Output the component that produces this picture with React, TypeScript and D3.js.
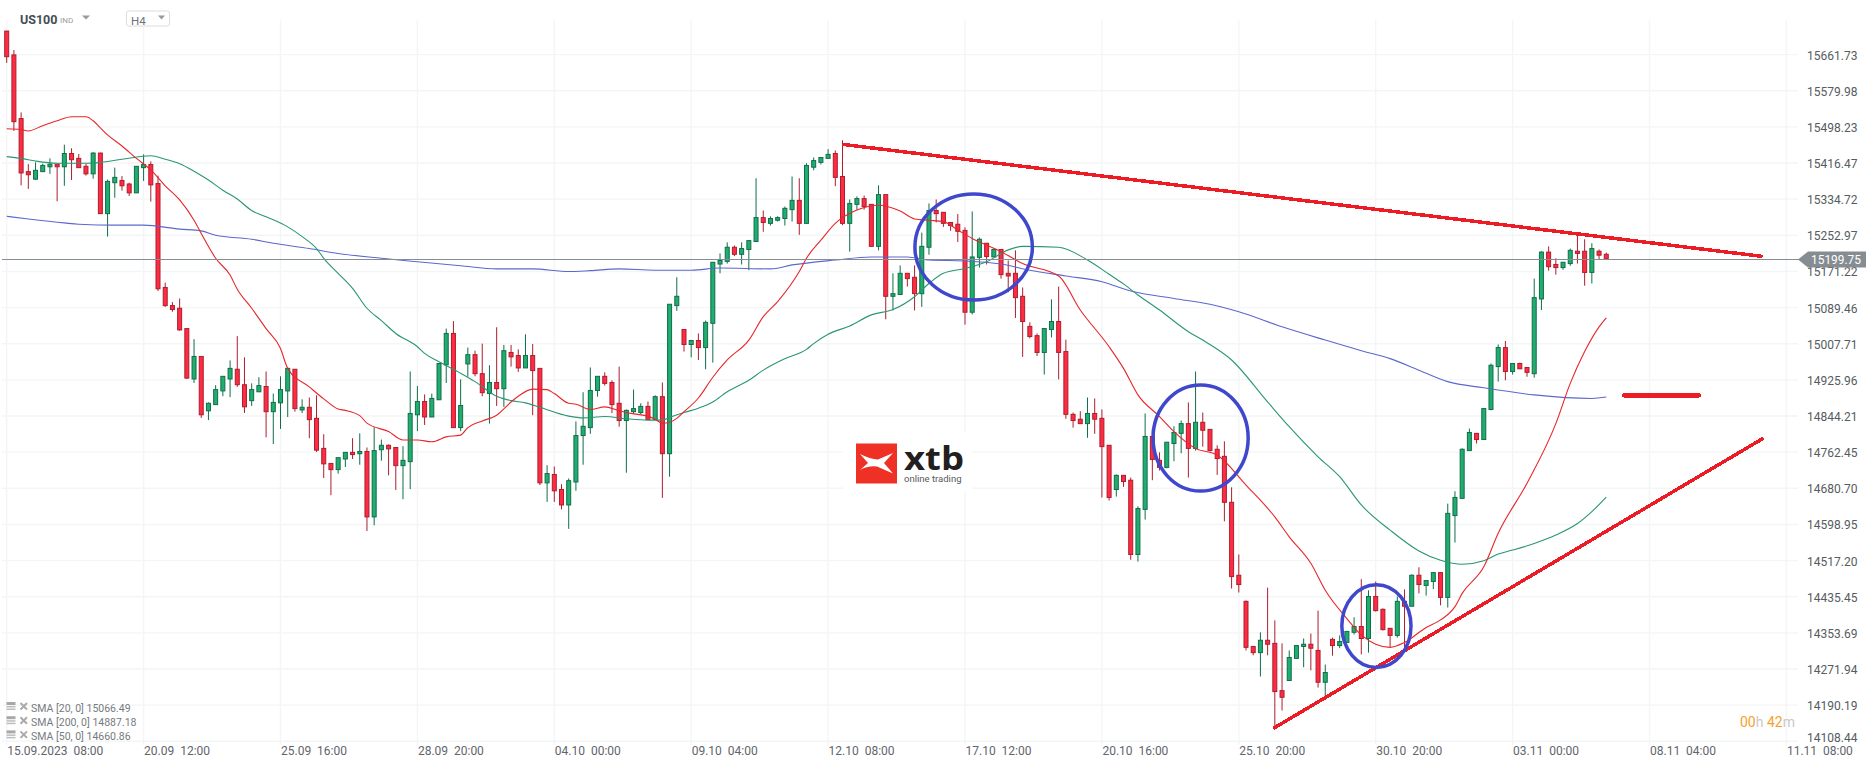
import { useRef, useEffect } from "react";
import * as d3 from "d3";

const WIDTH = 1866;
const HEIGHT = 767;

const priceTicks = [
  15661.73, 15579.98, 15498.23, 15416.47, 15334.72, 15252.97, 15171.22, 15089.46, 15007.71, 14925.96,
  14844.21, 14762.45, 14680.7, 14598.95, 14517.2, 14435.45, 14353.69, 14271.94, 14190.19, 14108.44,
];
const timeLabels = [
  "15.09.2023  08:00", "20.09  12:00", "25.09  16:00", "28.09  20:00", "04.10  00:00", "09.10  04:00", "12.10  08:00",
  "17.10  12:00", "20.10  16:00", "25.10  20:00", "30.10  20:00", "03.11  00:00", "08.11  04:00", "11.11  08:00",
];
const BARS_PER_LABEL = 19;
const lastPrice = 15199.75;

const opens = [
  15715, 15661, 15517, 15397, 15380, 15397, 15408, 15414, 15408, 15438,
  15427, 15409, 15392, 15439, 15302, 15372, 15377, 15369, 15349, 15406,
  15413, 15370, 15135, 15094, 15088, 15042, 14928, 14979, 14856, 14870,
  14901, 14928, 14950, 14915, 14879, 14899, 14911, 14854, 14874, 14901,
  14950, 14858, 14864, 14839, 14771, 14737, 14723, 14747, 14762, 14759,
  14764, 14616, 14768, 14778, 14773, 14732, 14741, 14847, 14877, 14842,
  14881, 14960, 15031, 14818, 14962, 14983, 14940, 14895, 14920, 14906,
  14988, 14981, 14953, 14981, 14952, 14693, 14712, 14678, 14643, 14695,
  14800, 14818, 14902, 14934, 14920, 14873, 14834, 14854, 14852, 14866,
  14836, 14888, 14759, 15094, 15040, 15006, 15015, 14999, 15054, 15188,
  15194, 15226, 15210, 15221, 15239, 15293, 15280, 15287, 15291, 15311,
  15332, 15280, 15407, 15418, 15427, 15438, 15386, 15280, 15323, 15336,
  15323, 15228, 15345, 15115, 15119, 15167, 15158, 15121, 15226, 15309,
  15305, 15282, 15278, 15264, 15079, 15203, 15235, 15204, 15221, 15167,
  15167, 15115, 15047, 15026, 14988, 15040, 15058, 14990, 14848, 14837,
  14827, 14850, 14839, 14778, 14678, 14710, 14699, 14531, 14633, 14798,
  14744, 14728, 14782, 14805, 14827, 14771, 14830, 14814, 14769, 14753,
  14649, 14484, 14425, 14323, 14309, 14337, 14330, 14223, 14246, 14296,
  14323, 14328, 14314, 14242, 14339, 14325, 14332, 14355, 14368, 14341,
  14436, 14407, 14364, 14348, 14425, 14414, 14484, 14461, 14470, 14490,
  14434, 14619, 14658, 14766, 14805, 14791, 14859, 14956, 14999, 14945,
  14963, 14954, 14940, 15109, 15215, 15187, 15180, 15189, 15217, 15217,
  15169, 15217, 15210,
];
const highs = [
  15715, 15672, 15531, 15414, 15418, 15415, 15427, 15414, 15458, 15450,
  15437, 15415, 15441, 15440, 15379, 15406, 15387, 15372, 15409, 15436,
  15420, 15388, 15146, 15102, 15110, 15042, 15018, 14979, 14875, 14914,
  14934, 14970, 15025, 14977, 14918, 14932, 14945, 14895, 14934, 14954,
  14950, 14882, 14886, 14891, 14803, 14737, 14750, 14762, 14794, 14805,
  14773, 14819, 14791, 14780, 14773, 14776, 14945, 14912, 14893, 14895,
  14963, 15042, 15059, 14927, 14999, 14992, 15008, 14959, 15045, 15005,
  15005, 14995, 15029, 15007, 14952, 14733, 14730, 14690, 14703, 14832,
  14898, 14954, 14934, 14943, 14925, 14956, 14859, 14904, 14873, 14877,
  14891, 14920, 15097, 15158, 15040, 15015, 15031, 15060, 15192, 15212,
  15237, 15230, 15237, 15241, 15382, 15309, 15296, 15296, 15318, 15386,
  15382, 15416, 15429, 15429, 15448, 15445, 15468, 15334, 15341, 15343,
  15323, 15366, 15345, 15167, 15185, 15167, 15185, 15259, 15325, 15334,
  15305, 15282, 15301, 15271, 15307, 15248, 15235, 15223, 15221, 15196,
  15219, 15135, 15056, 15031, 15042, 15108, 15137, 15017, 14852, 14855,
  14886, 14884, 14859, 14778, 14712, 14710, 14705, 14640, 14850, 14816,
  14762, 14785, 14821, 14834, 14875, 14945, 14852, 14814, 14778, 14787,
  14683, 14531, 14427, 14323, 14355, 14456, 14382, 14330, 14314, 14325,
  14341, 14352, 14404, 14282, 14343, 14348, 14357, 14389, 14475, 14450,
  14470, 14409, 14364, 14436, 14452, 14486, 14502, 14472, 14490, 14490,
  14646, 14674, 14771, 14816, 14805, 14861, 14963, 15006, 15014, 14963,
  14965, 14954, 15155, 15217, 15228, 15201, 15192, 15223, 15253, 15244,
  15235, 15221, 15214,
];
const lows = [
  15643, 15489, 15366, 15358, 15378, 15397, 15392, 15330, 15365, 15378,
  15406, 15388, 15381, 15302, 15250, 15338, 15354, 15342, 15349, 15376,
  15329, 15127, 15091, 15080, 15037, 14928, 14919, 14840, 14835, 14870,
  14889, 14887, 14910, 14851, 14867, 14899, 14796, 14781, 14815, 14842,
  14854, 14851, 14794, 14763, 14704, 14665, 14714, 14729, 14747, 14734,
  14584, 14597, 14743, 14710, 14677, 14656, 14679, 14810, 14824, 14842,
  14881, 14919, 14818, 14810, 14933, 14934, 14889, 14827, 14867, 14865,
  14956, 14944, 14953, 14846, 14688, 14650, 14650, 14633, 14589, 14675,
  14734, 14804, 14888, 14913, 14851, 14820, 14716, 14850, 14848, 14836,
  14836, 14659, 14707, 15082, 14990, 14977, 14971, 14950, 14965, 15167,
  15189, 15206, 15187, 15174, 15239, 15261, 15275, 15284, 15275, 15284,
  15254, 15280, 15400, 15413, 15427, 15364, 15276, 15216, 15311, 15311,
  15228, 15219, 15063, 15083, 15119, 15137, 15083, 15091, 15209, 15282,
  15272, 15263, 15238, 15051, 15074, 15180, 15187, 15204, 15155, 15124,
  15066, 14978, 15020, 14980, 14938, 15022, 14927, 14838, 14818, 14827,
  14795, 14804, 14660, 14653, 14662, 14684, 14519, 14515, 14610, 14699,
  14721, 14726, 14742, 14760, 14705, 14766, 14775, 14764, 14711, 14606,
  14454, 14445, 14314, 14303, 14255, 14303, 14140, 14178, 14246, 14296,
  14276, 14269, 14230, 14210, 14302, 14319, 14332, 14350, 14305, 14309,
  14402, 14359, 14322, 14343, 14321, 14414, 14443, 14438, 14453, 14416,
  14411, 14558, 14658, 14766, 14782, 14791, 14857, 14922, 14925, 14938,
  14951, 14933, 14931, 15084, 15173, 15164, 15175, 15184, 15189, 15139,
  15144, 15198, 15198,
];
const closes = [
  15657, 15510, 15394, 15390, 15400, 15411, 15414, 15408, 15438, 15424,
  15406, 15392, 15439, 15302, 15375, 15384, 15365, 15349, 15409, 15413,
  15367, 15132, 15094, 15085, 15039, 14930, 14979, 14847, 14873, 14904,
  14934, 14952, 14915, 14865, 14904, 14913, 14854, 14875, 14904, 14952,
  14861, 14864, 14836, 14767, 14736, 14723, 14750, 14762, 14757, 14764,
  14616, 14766, 14778, 14770, 14732, 14744, 14850, 14877, 14842, 14884,
  14963, 15031, 14818, 14868, 14983, 14940, 14897, 14920, 14906, 14992,
  14978, 14953, 14981, 14947, 14693, 14714, 14675, 14643, 14698, 14800,
  14821, 14902, 14934, 14918, 14870, 14834, 14857, 14861, 14866, 14836,
  14888, 14759, 15097, 15115, 15006, 15015, 14999, 15056, 15192, 15196,
  15226, 15210, 15223, 15241, 15293, 15282, 15291, 15293, 15314, 15332,
  15280, 15411, 15422, 15429, 15436, 15384, 15280, 15325, 15336, 15318,
  15228, 15345, 15115, 15121, 15167, 15155, 15121, 15228, 15309, 15302,
  15280, 15275, 15262, 15079, 15204, 15244, 15205, 15221, 15164, 15161,
  15112, 15058, 15024, 14988, 15042, 15058, 14988, 14848, 14834, 14827,
  14850, 14837, 14775, 14660, 14710, 14696, 14531, 14635, 14798, 14746,
  14728, 14785, 14807, 14827, 14771, 14830, 14812, 14766, 14748, 14649,
  14481, 14463, 14321, 14309, 14337, 14328, 14221, 14208, 14298, 14325,
  14328, 14319, 14242, 14264, 14325, 14334, 14357, 14368, 14341, 14436,
  14404, 14361, 14348, 14425, 14414, 14484, 14463, 14472, 14490, 14434,
  14624, 14660, 14769, 14807, 14791, 14861, 14959, 14999, 14945, 14963,
  14951, 14943, 15112, 15215, 15182, 15180, 15192, 15219, 15212, 15169,
  15223, 15208, 15199.75,
];

// moving averages, [bar, price]
const sma20: [number, number][] = [
  [0, 15494], [2, 15492], [3, 15489], [5, 15501], [7, 15512], [9, 15521], [11, 15521], [12, 15512], [13, 15496], [14, 15480],
  [16, 15455], [18, 15427], [20, 15401], [22, 15365], [24, 15333], [26, 15287], [27, 15257], [29, 15201], [31, 15163], [32, 15131],
  [34, 15088], [36, 15042], [38, 14997], [39, 14952], [42, 14910], [44, 14883], [46, 14860], [47, 14857], [49, 14845], [50, 14828],
  [53, 14809], [55, 14790], [57, 14790], [59, 14786], [61, 14797], [63, 14801], [64, 14818], [66, 14833], [68, 14846], [70, 14876],
  [71, 14889], [73, 14905], [75, 14904], [76, 14895], [78, 14873], [79, 14871], [81, 14859], [83, 14865], [85, 14856], [87, 14849],
  [89, 14844], [90, 14837], [91, 14828], [92, 14830], [93, 14839], [94, 14854], [96, 14885], [98, 14932], [100, 14971], [103, 15016],
  [105, 15069], [107, 15103], [110, 15171], [111, 15201], [113, 15242], [115, 15280], [118, 15310], [121, 15321], [124, 15308], [126, 15290],
  [128, 15287], [130, 15284], [132, 15265], [134, 15246], [136, 15231], [138, 15216], [141, 15189], [146, 15161], [149, 15084], [153, 15001],
  [155, 14952], [157, 14892], [160, 14843], [162, 14809], [165, 14771], [168, 14756], [172, 14688], [176, 14616], [178, 14571], [181, 14511],
  [183, 14450], [186, 14386], [188, 14349], [190, 14328], [192, 14321], [194, 14332], [197, 14366], [199, 14383], [201, 14413], [202, 14443],
  [205, 14503], [207, 14579], [211, 14692], [215, 14827], [217, 14918], [219, 14990], [221, 15046], [222, 15066.49],
];
const sma50: [number, number][] = [
  [0, 15431], [2, 15427], [4, 15421], [7, 15416], [11, 15416], [13, 15418], [16, 15425], [20, 15433], [22, 15425], [24, 15415],
  [26, 15398], [28, 15378], [30, 15355], [32, 15335], [34, 15309], [36, 15295], [39, 15272], [41, 15250], [43, 15223], [44, 15201],
  [46, 15167], [48, 15133], [50, 15088], [52, 15060], [54, 15031], [57, 15001], [58, 14986], [60, 14967], [63, 14941], [65, 14922],
  [68, 14889], [70, 14879], [72, 14874], [74, 14864], [78, 14844], [80, 14840], [83, 14843], [86, 14838], [89, 14835], [91, 14835],
  [92, 14841], [94, 14852], [96, 14862], [98, 14876], [100, 14899], [103, 14925], [105, 14948], [108, 14974], [111, 14995], [112, 15008],
  [114, 15029], [117, 15048], [120, 15073], [123, 15085], [126, 15114], [128, 15144], [130, 15167], [133, 15178], [136, 15193], [139, 15220],
  [141, 15228], [146, 15226], [150, 15197], [153, 15165], [155, 15143], [157, 15118], [160, 15084], [164, 15035], [166, 15016], [170, 14971],
  [175, 14876], [178, 14820], [182, 14752], [185, 14707], [188, 14643], [192, 14586], [196, 14539], [199, 14518], [202, 14509], [205, 14517],
  [207, 14532], [209, 14541], [212, 14556], [215, 14575], [218, 14601], [220, 14628], [222, 14660.86],
];
const sma200: [number, number][] = [
  [0, 15296], [3, 15290], [8, 15281], [10, 15278], [15, 15276], [19, 15276], [24, 15267], [27, 15263], [29, 15253], [34, 15244],
  [37, 15235], [42, 15223], [46, 15212], [52, 15201], [57, 15193], [63, 15184], [68, 15177], [73, 15177], [78, 15171], [81, 15173],
  [85, 15177], [90, 15174], [95, 15174], [99, 15179], [106, 15177], [109, 15186], [115, 15197], [120, 15204], [125, 15204], [128, 15197],
  [133, 15195], [138, 15188], [142, 15174], [147, 15161], [152, 15148], [156, 15127], [162, 15110], [167, 15097], [171, 15080], [177, 15046],
  [183, 15016], [188, 14992], [192, 14974], [196, 14948], [200, 14922], [205, 14908], [212, 14892], [220, 14884], [222, 14887.18],
];
const smaLegend = ["SMA [20, 0] 15066.49", "SMA [200, 0] 14887.18", "SMA [50, 0] 14660.86"];

// hand drawn marks on the chart, in bar / price units
const trendLines: [number, number, number, number][] = [
  [116, 15458.7, 243.7, 15205.2],
  [175.8, 14137.7, 243.8, 14794],
];
const targetLine: [number, number, number, number] = [224.5, 14891, 234.85, 14891];
const circles: [number, number, number, number][] = [
  [134.2, 15226.5, 8.15, 120],
  [165.7, 14794.4, 6.6, 120],
  [190.1, 14369, 4.8, 93.4],
];

export default function App() {
  const svgRef = useRef<SVGSVGElement>(null);

  function renderChart() {
    const svg = d3.select(svgRef.current);
    svg.selectAll("*").remove();
    svg.style("font-family", "Roboto, sans-serif");

    const x = d3.scaleLinear().domain([0, BARS_PER_LABEL]).range([6.7, 143.6]);
    const y = d3.scaleLinear().domain([14108.44, 15661.73]).range([741.3, 54.6]);
    const gridRight = 1798;

    // grid
    const grid = svg.append("g").attr("stroke", "#f4f5f6").attr("stroke-width", 1.4);
    grid
      .selectAll("line.h")
      .data(priceTicks)
      .join("line")
      .attr("class", "h")
      .attr("x1", 2)
      .attr("x2", gridRight)
      .attr("y1", (d) => y(d))
      .attr("y2", (d) => y(d));
    grid
      .selectAll("line.v")
      .data(timeLabels)
      .join("line")
      .attr("class", "v")
      .attr("x1", (_, i) => x(i * BARS_PER_LABEL))
      .attr("x2", (_, i) => x(i * BARS_PER_LABEL))
      .attr("y1", 20)
      .attr("y2", 745);

    // watermark
    const logo = svg.append("g");
    logo.append("rect").attr("x", 843).attr("y", 433).attr("width", 129).attr("height", 58).attr("fill", "#fff");
    logo.append("rect").attr("x", 856).attr("y", 443.5).attr("width", 41).attr("height", 40).attr("fill", "#ee3124");
    logo
      .append("path")
      .attr("d", "M860 454 Q870 459 878 459.5 L893 453 L884 463 L893 473.5 L877 466.5 Q868 465.5 860 470 L868 463 Z")
      .attr("fill", "#fff");
    logo
      .append("text")
      .text("xtb")
      .attr("x", 904)
      .attr("y", 470)
      .attr("font-size", 32)
      .attr("font-weight", 700)
      .attr("font-family", "'Open Sans', sans-serif")
      .attr("textLength", 60)
      .attr("lengthAdjust", "spacingAndGlyphs")
      .attr("fill", "#231f20");
    logo
      .append("text")
      .text("online trading")
      .attr("x", 904)
      .attr("y", 481.5)
      .attr("font-size", 9.5)
      .attr("fill", "#58595b");

    // candles
    const candles = svg
      .append("g")
      .selectAll("g")
      .data(opens.map((open, i) => ({ i, open, high: highs[i], low: lows[i], close: closes[i] })))
      .join("g");
    const wickColor = (d: any) => (d.close >= d.open ? "#0f6e49" : "#ac1e2e");
    candles
      .append("line")
      .attr("x1", (d) => x(d.i))
      .attr("x2", (d) => x(d.i))
      .attr("y1", (d) => y(d.high))
      .attr("y2", (d) => y(d.low))
      .attr("stroke", wickColor)
      .attr("stroke-width", 1);
    candles
      .append("rect")
      .attr("x", (d) => x(d.i) - 2)
      .attr("width", 4)
      .attr("y", (d) => y(Math.max(d.open, d.close)))
      .attr("height", (d) => Math.max(1, Math.abs(y(d.open) - y(d.close))))
      .attr("fill", (d) => (d.close >= d.open ? "#21ad6f" : "#ff2b43"))
      .attr("stroke", wickColor)
      .attr("stroke-width", 1);

    // moving averages
    const smaLine = d3
      .line<[number, number]>()
      .x((d) => x(d[0]))
      .y((d) => y(d[1]))
      .curve(d3.curveMonotoneX);
    const smas: [[number, number][], string][] = [
      [sma200, "#5c68cc"],
      [sma50, "#2a9673"],
      [sma20, "#e8262a"],
    ];
    smas.forEach(([points, color]) => {
      svg.append("path").attr("d", smaLine(points)).attr("fill", "none").attr("stroke", color).attr("stroke-width", 1.1);
    });

    // last price line
    const tagY = Math.round(y(lastPrice)) + 0.5;
    svg
      .append("line")
      .attr("x1", 2)
      .attr("x2", 1800)
      .attr("y1", tagY)
      .attr("y2", tagY)
      .attr("stroke", "#868d92")
      .attr("stroke-width", 1);

    // hand drawn marks
    svg
      .append("g")
      .selectAll("line")
      .data([...trendLines, targetLine])
      .join("line")
      .attr("x1", (d) => x(d[0]))
      .attr("y1", (d) => y(d[1]))
      .attr("x2", (d) => x(d[2]))
      .attr("y2", (d) => y(d[3]))
      .attr("stroke", "#ed1c24")
      .attr("stroke-width", (d) => (d === targetLine ? 4.5 : 3.5))
      .attr("stroke-linecap", (d) => (d === targetLine ? "round" : "butt"))
      .attr("shape-rendering", "crispEdges");
    svg
      .append("g")
      .selectAll("ellipse")
      .data(circles)
      .join("ellipse")
      .attr("cx", (d) => x(d[0]))
      .attr("cy", (d) => y(d[1]))
      .attr("rx", (d) => x(d[2]) - x(0))
      .attr("ry", (d) => y(0) - y(d[3]))
      .attr("fill", "none")
      .attr("stroke", "#3f48cc")
      .attr("stroke-width", 3.5);

    // price axis, the lowest label sits a little higher to clear the time axis
    svg
      .append("g")
      .selectAll("text")
      .data(priceTicks)
      .join("text")
      .text((d) => d.toFixed(2))
      .attr("x", 1807)
      .attr("y", (d, i) => y(d) + (i === priceTicks.length - 1 ? 0.5 : 5))
      .attr("font-size", 13)
      .attr("textLength", 50.5)
      .attr("lengthAdjust", "spacingAndGlyphs")
      .attr("fill", "#565c62");

    // time axis
    svg
      .append("g")
      .selectAll("text")
      .data(timeLabels)
      .join("text")
      .text((d) => d)
      .attr("x", (_, i) => x(i * BARS_PER_LABEL) + 0.5)
      .attr("y", 755)
      .attr("font-size", 12)
      .attr("fill", "#5f656b")
      .style("white-space", "pre");

    // last price tag
    svg
      .append("path")
      .attr("d", `M1798 ${tagY} L1808 ${tagY - 8} H1866 V${tagY + 8} H1808 Z`)
      .attr("fill", "#868d92");
    svg
      .append("text")
      .text(lastPrice.toFixed(2))
      .attr("x", 1811)
      .attr("y", tagY + 4.5)
      .attr("font-size", 13)
      .attr("textLength", 50)
      .attr("lengthAdjust", "spacingAndGlyphs")
      .attr("fill", "#fff");

    // header
    svg.append("text").text("US100").attr("x", 20).attr("y", 24).attr("font-size", 12.5).attr("font-weight", 700).attr("fill", "#454c53");
    svg.append("text").text("IND").attr("x", 60).attr("y", 23).attr("font-size", 8).attr("fill", "#9a9a9a");
    svg.append("path").attr("d", "M82 15.5 H90 L86 19.5 Z").attr("fill", "#9a9a9a");
    svg
      .append("rect")
      .attr("x", 126.5)
      .attr("y", 11)
      .attr("width", 43)
      .attr("height", 15)
      .attr("rx", 2)
      .attr("fill", "#fff")
      .attr("stroke", "#dcdcdc");
    svg.append("text").text("H4").attr("x", 131).attr("y", 24.5).attr("font-size", 11.5).attr("fill", "#6d7278");
    svg.append("path").attr("d", "M158 15.5 H165 L161.5 19.5 Z").attr("fill", "#9a9a9a");

    // indicator legend
    const legend = svg
      .append("g")
      .selectAll("g")
      .data(smaLegend)
      .join("g")
      .attr("transform", (_, i) => `translate(0,${708 + i * 14.2})`);
    legend.append("rect").attr("x", 6.5).attr("y", -6).attr("width", 9).attr("height", 3).attr("fill", "#a8a8a8");
    legend.append("rect").attr("x", 6.5).attr("y", -2).attr("width", 9).attr("height", 1.5).attr("fill", "#bdbdbd");
    legend.append("rect").attr("x", 6.5).attr("y", 0.5).attr("width", 9).attr("height", 1.5).attr("fill", "#bdbdbd");
    legend
      .append("path")
      .attr("d", "M20.5 -5 L27 1.5 M27 -5 L20.5 1.5")
      .attr("stroke", "#aaa")
      .attr("stroke-width", 2);
    legend
      .append("text")
      .text((d) => d)
      .attr("x", 31)
      .attr("y", 3.5)
      .attr("font-size", 10.5)
      .attr("fill", "#767b80");

    // candle countdown
    const timer = svg.append("text").attr("x", 1740).attr("y", 727).attr("font-size", 14);
    timer.append("tspan").text("00").attr("fill", "#f7a12b");
    timer.append("tspan").text("h ").attr("fill", "#c9c9c9");
    timer.append("tspan").text("42").attr("fill", "#f7a12b");
    timer.append("tspan").text("m").attr("fill", "#c9c9c9");
  }

  useEffect(() => {
    renderChart();
  }, []);

  return (
    <svg
      ref={svgRef}
      width={WIDTH}
      height={HEIGHT}
      style={{ position: "absolute", left: 0, top: 0, display: "block" }}
    />
  );
}
